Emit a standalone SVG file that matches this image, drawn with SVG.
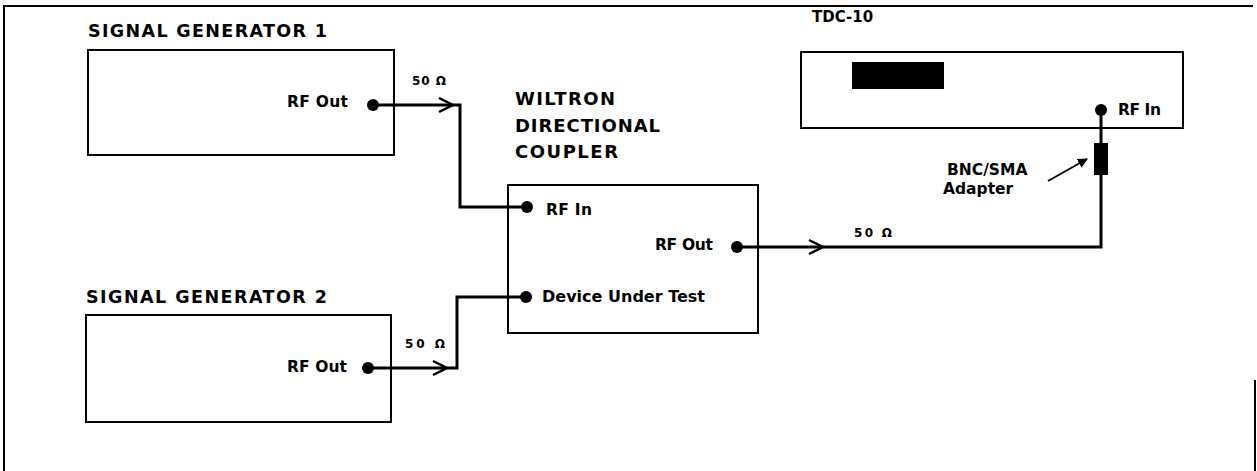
<svg xmlns="http://www.w3.org/2000/svg" width="1257" height="471" viewBox="0 0 1257 471">
<style>
text{font-family:"DejaVu Sans","Liberation Sans",Arial,sans-serif;font-weight:bold;fill:#000}
.title{font-size:17.5px}
.big{font-size:18px}
.port{font-size:15.5px}
.ohm{font-size:12px}
.box{fill:none;stroke:#000;stroke-width:2}
.wire{fill:none;stroke:#000;stroke-width:3;stroke-linejoin:miter}
.dot{fill:#000}
.chev{fill:none;stroke:#000;stroke-width:2.5;stroke-linejoin:miter}
</style>
<defs>
<marker id="ah" viewBox="0 0 10 10" refX="9" refY="5" markerWidth="10" markerHeight="10" markerUnits="userSpaceOnUse" orient="auto">
<path d="M0,0 L10,5 L0,10 Z" fill="#000"/>
</marker>
</defs>
<rect width="1257" height="471" fill="#fff"/>
<g id="frame" fill="none" stroke="#000" stroke-width="2">
<polyline points="4,471 4,6 1253,6"/>
<line x1="1255" y1="380" x2="1255" y2="471"/>
</g>
<g id="connectors">
<polyline class="wire" points="373,105 460,105 460,207 527,207"/>
<polyline class="chev" points="439,98 453,105 439,112"/>
<text class="ohm" x="412" y="85" textLength="34" lengthAdjust="spacing">50 Ω</text>
<polyline class="wire" points="368,368 457,368 457,297 526,297"/>
<polyline class="chev" points="433,361 447,368 433,375"/>
<text class="ohm" x="405" y="348" textLength="40" lengthAdjust="spacing">50 Ω</text>
<polyline class="wire" points="737,247 1101,247 1101,110"/>
<polyline class="chev" points="809,240 823,247 809,254"/>
<text class="ohm" x="854" y="237" textLength="38" lengthAdjust="spacing">50 Ω</text>
<rect x="1094" y="143" width="14" height="32" fill="#000"/>
<line x1="1048" y1="181" x2="1087" y2="159" stroke="#000" stroke-width="2" marker-end="url(#ah)"/>
<text class="port" x="947" y="175">BNC/SMA</text>
<text class="port" x="943" y="194">Adapter</text>
</g>
<g id="sg1">
<text class="title" x="88" y="37" textLength="239" lengthAdjust="spacing">SIGNAL GENERATOR 1</text>
<rect class="box" x="88" y="50" width="306" height="105"/>
<text class="port" x="287" y="107" textLength="61" lengthAdjust="spacing">RF Out</text>
<circle class="dot" cx="373" cy="105" r="6"/>
</g>
<g id="sg2">
<text class="title" x="86" y="303" textLength="241" lengthAdjust="spacing">SIGNAL GENERATOR 2</text>
<rect class="box" x="86" y="315" width="305" height="107"/>
<text class="port" x="287" y="372" textLength="60" lengthAdjust="spacing">RF Out</text>
<circle class="dot" cx="368" cy="368" r="6"/>
</g>
<g id="coupler">
<text class="big" x="515" y="105" textLength="100" lengthAdjust="spacing">WILTRON</text>
<text class="big" x="515" y="132" textLength="145" lengthAdjust="spacing">DIRECTIONAL</text>
<text class="big" x="515" y="158" textLength="103" lengthAdjust="spacing">COUPLER</text>
<rect class="box" x="508" y="185" width="250" height="148"/>
<circle class="dot" cx="527" cy="207" r="6"/>
<text class="port" x="546" y="215" textLength="46" lengthAdjust="spacing">RF In</text>
<text class="port" x="655" y="250" textLength="58" lengthAdjust="spacing">RF Out</text>
<circle class="dot" cx="737" cy="247" r="6"/>
<circle class="dot" cx="526" cy="297" r="6"/>
<text class="port" x="542" y="302" textLength="163" lengthAdjust="spacingAndGlyphs">Device Under Test</text>
</g>
<g id="tdc10">
<text class="title" x="812" y="22" style="font-size:15px">TDC-10</text>
<rect class="box" x="801" y="52" width="382" height="76"/>
<rect x="852" y="62" width="92" height="27" fill="#000"/>
<circle class="dot" cx="1101" cy="110" r="6"/>
<text class="port" x="1118" y="115" textLength="43" lengthAdjust="spacing">RF In</text>
</g>
</svg>
